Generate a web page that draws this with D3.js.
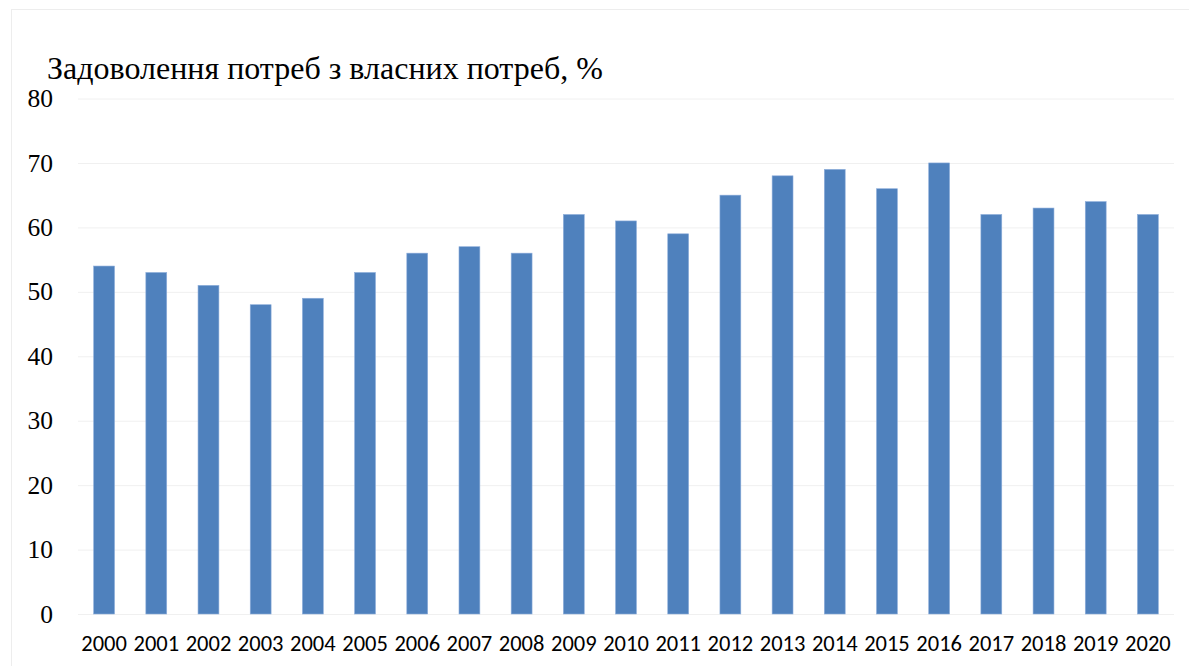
<!DOCTYPE html>
<html><head><meta charset="utf-8">
<script src="https://cdn.jsdelivr.net/npm/d3@7"></script>
<style>body{margin:0;background:#fff}svg{display:block}</style>
</head><body>
<svg id="c" width="1189" height="666"></svg>
<script>
const years = ["2000","2001","2002","2003","2004","2005","2006","2007","2008","2009","2010","2011","2012","2013","2014","2015","2016","2017","2018","2019","2020"];
const values = [54,53,51,48,49,53,56,57,56,62,61,59,65,68,69,66,70,62,63,64,62];
const yTicks = [0,10,20,30,40,50,60,70,80];
const title = "Задоволення потреб з власних потреб, %";

const svg = d3.select("#c");
const m = {l:78, r:1174, t:98.5, b:614};
svg.append("rect").attr("x",11.5).attr("y",9.5).attr("width",1200).attr("height",700)
  .attr("fill","none").attr("stroke","#ededed");

const x = d3.scaleBand().domain(years).range([m.l,m.r]).paddingInner(0.6).paddingOuter(0.3);
const y = d3.scaleLinear().domain([0,80]).range([m.b,m.t]);

const yAxis = svg.append("g").attr("transform",`translate(${m.l},0)`)
  .call(d3.axisLeft(y).tickValues(yTicks).tickSize(-(m.r-m.l)).tickPadding(25));
yAxis.select(".domain").remove();
yAxis.selectAll("line").attr("stroke","#f0f0f0").attr("stroke-width",1);
yAxis.selectAll("text").attr("font-family","'Liberation Serif', 'Times New Roman', serif")
  .attr("font-size",25.5).attr("fill","#000");

svg.append("g").selectAll("rect").data(values).join("rect")
  .attr("x",(d,i)=>x(years[i])).attr("width",x.bandwidth())
  .attr("y",d=>y(d)).attr("height",d=>y(0)-y(d))
  .attr("fill","#4F81BD").attr("stroke","#8eaedb").attr("stroke-width",0.6);

const xAxis = svg.append("g").attr("transform",`translate(0,${m.b})`)
  .call(d3.axisBottom(x).tickSize(0).tickPadding(21.5));
xAxis.select(".domain").remove();
xAxis.selectAll("text").attr("font-family","Carlito, 'Liberation Sans', Arial, sans-serif")
  .attr("font-size",22.5).attr("fill","#000");

svg.append("text").attr("x",47).attr("y",79).text(title)
  .attr("font-family","'Liberation Serif', 'Times New Roman', serif")
  .attr("font-size",32).attr("fill","#000");
</script>
</body></html>
